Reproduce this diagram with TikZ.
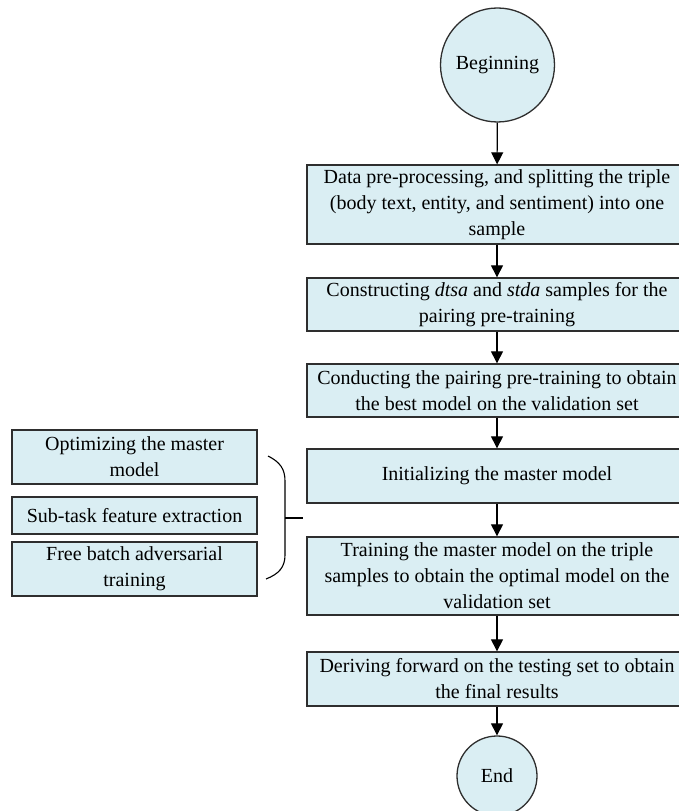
\documentclass[tikz,border=0pt]{standalone}
\usepackage{fontspec}
\setmainfont{Liberation Serif}
\usetikzlibrary{arrows.meta}
\definecolor{boxfill}{HTML}{DAEEF3}
\definecolor{boxline}{HTML}{2E2E2E}
\begin{document}
\begin{tikzpicture}[x=1pt,y=1pt,
  stepbox/.style={draw=boxline,fill=boxfill,line width=1.3pt,minimum width=380pt,
    align=center,font=\fontsize{20}{26}\selectfont,inner sep=0pt},
  sidebox/.style={draw=boxline,fill=boxfill,line width=1.3pt,minimum width=245pt,
    align=center,font=\fontsize{20}{26}\selectfont,inner sep=0pt},
  terminal/.style={circle,draw=boxline,fill=boxfill,line width=1.3pt,
    font=\fontsize{20}{26}\selectfont,inner sep=0pt},
  flow/.style={draw=black,line width=1.1pt,-{Triangle[width=12pt,length=12pt]}}]
\useasboundingbox (0,0) rectangle (678,811);

% main column
\node[terminal,minimum size=114pt] (begin) at (497.5,746) {Beginning};
\node[stepbox,minimum height=79pt] (prep) at (497,606.5)
  {Data pre-processing, and splitting the triple\\(body text, entity, and sentiment) into one\\sample};
\node[stepbox,minimum height=53pt] (construct) at (497,506.5)
  {Constructing \textit{dtsa} and \textit{stda} samples for the\\pairing pre-training};
\node[stepbox,minimum height=53pt] (pretrain) at (497,420.5)
  {Conducting the pairing pre-training to obtain\\the best model on the validation set};
\node[stepbox,minimum height=54pt] (init) at (497,335)
  {Initializing the master model};
\node[stepbox,minimum height=78pt] (train) at (497,235)
  {Training the master model on the triple\\samples to obtain the optimal model on the\\validation set};
\node[stepbox,minimum height=54pt] (derive) at (497,132)
  {Deriving forward on the testing set to obtain\\the final results};
\node[terminal,minimum size=80pt] (finish) at (497,35) {End};

\draw[flow] (begin) -- (prep);
\draw[flow] (prep) -- (construct);
\draw[flow] (construct) -- (pretrain);
\draw[flow] (pretrain) -- (init);
\draw[flow] (init) -- (train);
\draw[flow] (train) -- (derive);
\draw[flow] (derive) -- (finish);

% side column of training techniques
\node[sidebox,minimum height=54pt] (optim) at (134.5,354)
  {Optimizing the master\\model};
\node[sidebox,minimum height=37pt] (subtask) at (134.5,295.5)
  {Sub-task feature extraction};
\node[sidebox,minimum height=54pt] (adv) at (134.5,242)
  {Free batch adversarial\\training};

% brace grouping the side column
\coordinate (bracetop) at (268,355);
\coordinate (bracemid) at (285,293);
\coordinate (bracebot) at (266,232);
\coordinate (bracetip) at (303,293);
\draw[black,line width=1.1pt]
  (bracetop) .. controls (280,349) and (285,342) .. (285,330)
  -- (285,256) .. controls (285,244) and (279,237) .. (bracebot);
\draw[black,line width=1.1pt] (bracemid) -- (bracetip);
\end{tikzpicture}
\end{document}
